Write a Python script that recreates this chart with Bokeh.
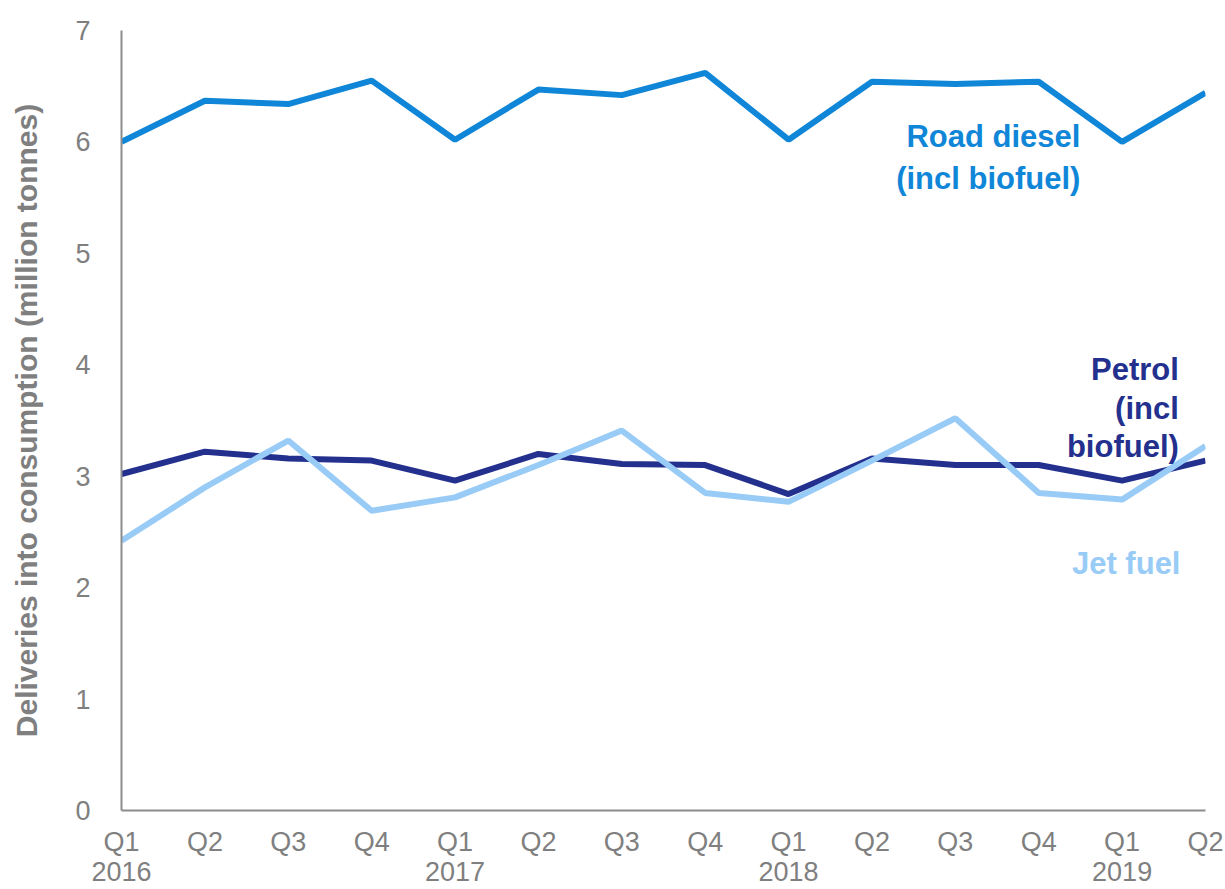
from bokeh.plotting import figure
from bokeh.models import Range1d, FixedTicker
from bokeh.core.properties import value
from bokeh.embed import file_html
from bokeh.resources import INLINE

# ---- data ----
quarters = ["Q1\n2016", "Q2", "Q3", "Q4", "Q1\n2017", "Q2", "Q3", "Q4",
            "Q1\n2018", "Q2", "Q3", "Q4", "Q1\n2019", "Q2"]
road_diesel = [6.00, 6.37, 6.34, 6.55, 6.02, 6.47, 6.42, 6.62, 6.02, 6.54, 6.52, 6.54, 6.00, 6.44]
petrol = [3.02, 3.22, 3.16, 3.14, 2.96, 3.20, 3.11, 3.10, 2.84, 3.16, 3.10, 3.10, 2.96, 3.14]
jet_fuel = [2.42, 2.90, 3.32, 2.69, 2.81, 3.10, 3.41, 2.85, 2.77, 3.14, 3.52, 2.85, 2.79, 3.27]
y_ticks = [0, 1, 2, 3, 4, 5, 6, 7]

x = list(range(len(quarters)))

FONT = "Liberation Sans"
GREY = "#7f7f7f"
C_DIESEL = "#0f86d8"
C_PETROL = "#23308e"
C_JET = "#99cbf7"

p = figure(width=1225, height=889, output_backend="svg", toolbar_location=None,
           x_range=Range1d(0, len(quarters) - 1), y_range=Range1d(0, 7),
           min_border_left=121, min_border_right=20, min_border_top=30, min_border_bottom=78)
p.outline_line_color = None
p.grid.grid_line_color = None
p.background_fill_color = "white"
p.border_fill_color = "white"

p.line(x, road_diesel, line_color=C_DIESEL, line_width=6)
p.line(x, petrol, line_color=C_PETROL, line_width=6)
p.line(x, jet_fuel, line_color=C_JET, line_width=6)

# axes
p.xaxis.ticker = FixedTicker(ticks=x)
p.xaxis.major_label_overrides = {i: q for i, q in enumerate(quarters)}
p.yaxis.ticker = FixedTicker(ticks=y_ticks)
for ax in (p.xaxis[0], p.yaxis[0]):
    ax.axis_line_color = "#8c8c8c"
    ax.axis_line_width = 2
    ax.major_tick_line_color = None
    ax.minor_tick_line_color = None
    ax.major_label_text_font = FONT
    ax.major_label_text_font_size = "27px"
    ax.major_label_text_color = GREY
p.xaxis.major_label_text_line_height = 1.0
p.xaxis.major_label_standoff = 10
p.yaxis.major_label_standoff = 25
p.yaxis.axis_label = "Deliveries into consumption (million tonnes)"
p.yaxis.axis_label_text_font = FONT
p.yaxis.axis_label_text_font_style = "bold"
p.yaxis.axis_label_text_font_size = "30px"
p.yaxis.axis_label_text_color = GREY
p.yaxis.axis_label_standoff = 29

# series labels
p.text(x=[11.5], y=[5.86], text=["Road diesel\n(incl biofuel)"], text_align="right",
       text_baseline="middle", text_font=value(FONT), text_font_style="bold",
       text_font_size="31px", text_color=C_DIESEL, text_line_height=1.2)
p.text(x=[12.68], y=[3.61], text=["Petrol\n(incl\nbiofuel)"], text_align="right",
       text_baseline="middle", text_font=value(FONT), text_font_style="bold",
       text_font_size="31px", text_color=C_PETROL, text_line_height=1.1)
p.text(x=[12.70], y=[2.22], text=["Jet fuel"], text_align="right",
       text_baseline="middle", text_font=value(FONT), text_font_style="bold",
       text_font_size="31px", text_color=C_JET)

open("out.html", "w").write(file_html(p, INLINE))
